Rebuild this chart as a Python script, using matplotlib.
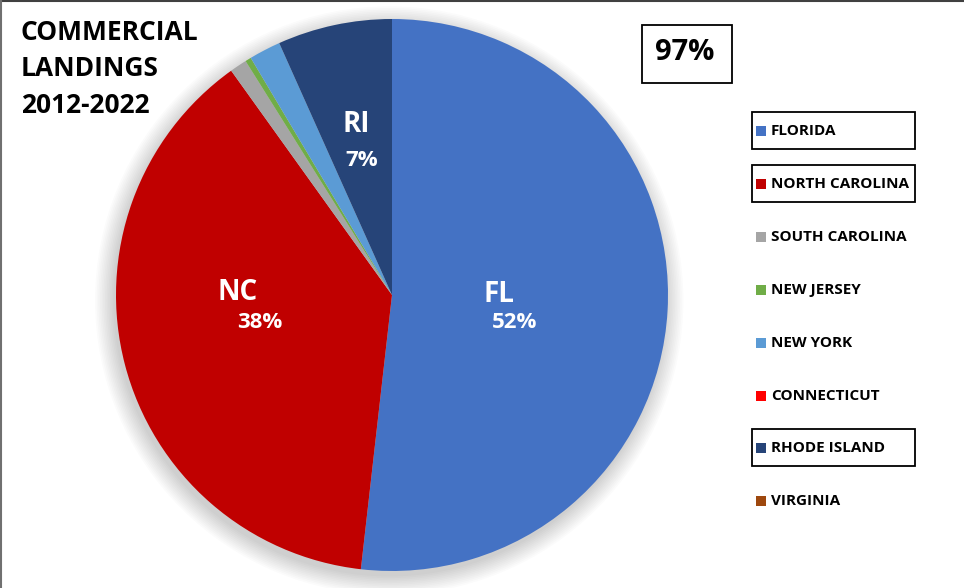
import matplotlib
matplotlib.use("Agg")
import matplotlib.pyplot as plt
from matplotlib.patches import Rectangle, Circle
from matplotlib.lines import Line2D

plt.rcParams['font.family'] = ['Open Sans', 'DejaVu Sans']

states = ['FLORIDA', 'NORTH CAROLINA', 'SOUTH CAROLINA', 'NEW JERSEY',
          'NEW YORK', 'CONNECTICUT', 'RHODE ISLAND', 'VIRGINIA']
shares = [51.8, 38.3, 1.0, 0.35, 1.85, 0.0, 6.7, 0.0]
colors = ['#4472C4', '#C00000', '#A5A5A5', '#70AD47',
          '#5B9BD5', '#FF0000', '#264478', '#9E480E']
boxed = ['FLORIDA', 'NORTH CAROLINA', 'RHODE ISLAND']

W, H = 964, 588
fig = plt.figure(figsize=(W / 100, H / 100), dpi=100)

def fx(px):
    return px / W

def fy(py):
    return 1 - py / H

# pie axes: centre (392, 295), radius 276 px
cx, cy, r = 392, 295, 276
ax = fig.add_axes([fx(cx - r), fy(cy + r), 2 * r / W, 2 * r / H])

# soft shadow behind the pie (mostly lower-left)
for k in range(12):
    ax.add_patch(Circle((-0.01, -0.02), 1 + k * 0.006, color='black',
                        alpha=0.014, lw=0, clip_on=False, zorder=0))

ax.pie(shares, colors=colors, startangle=90, counterclock=False, radius=1,
       wedgeprops=dict(linewidth=0))
ax.set_xlim(-1, 1)
ax.set_ylim(-1, 1)
ax.axis('off')

# slice labels
lab = dict(color='white', fontweight='bold', ha='center', va='center')
fig.text(fx(499), fy(294), 'FL', fontsize=20, **lab)
fig.text(fx(515), fy(323), '52%', fontsize=16, **lab)
fig.text(fx(238), fy(293), 'NC', fontsize=20, **lab)
fig.text(fx(260), fy(323), '38%', fontsize=16, **lab)
fig.text(fx(356), fy(124), 'RI', fontsize=20, **lab)
fig.text(fx(362), fy(160), '7%', fontsize=16, **lab)

# title
fig.text(fx(21), fy(19), 'COMMERCIAL\nLANDINGS\n2012-2022', fontsize=19,
         fontweight='bold', ha='left', va='top', linespacing=1.45)

# 97% box
fig.add_artist(Rectangle((fx(642), fy(83)), fx(90), 58 / H, transform=fig.transFigure,
                         fill=False, edgecolor='black', lw=1.3))
fig.text(fx(685), fy(53), '97%', fontsize=21, fontweight='bold', ha='center', va='center')

# legend
y0, step = 131, 52.9
for i, (name, col) in enumerate(zip(states, colors)):
    y = y0 + i * step
    fig.add_artist(Rectangle((fx(756), fy(y + 5)), fx(10), 10 / H, transform=fig.transFigure,
                             color=col, lw=0))
    fig.text(fx(771), fy(y), name, fontsize=11, fontweight='bold', ha='left', va='center')
    if name in boxed:
        fig.add_artist(Rectangle((fx(752), fy(y + 18)), fx(163), 37 / H,
                                 transform=fig.transFigure, fill=False,
                                 edgecolor='black', lw=1.3))

# frame lines at top and left
fig.add_artist(Line2D([0, 1], [fy(0.8), fy(0.8)], color='#404040', lw=1.5))
fig.add_artist(Line2D([fx(0.8), fx(0.8)], [0, 1], color='#707070', lw=1.5))

fig.savefig('out.png', dpi=100)
